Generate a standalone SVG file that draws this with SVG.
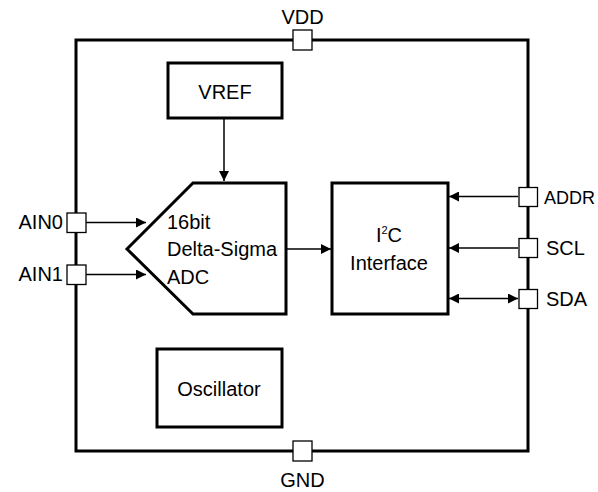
<svg xmlns="http://www.w3.org/2000/svg" width="598" height="492" viewBox="0 0 598 492">
<style>
.t{font-family:"Liberation Sans",Arial,sans-serif;font-size:20px;fill:#000}
.blk{fill:#fff;stroke:#000;stroke-width:3;stroke-linejoin:miter}
.pin{fill:#fff;stroke:#000;stroke-width:1.3}
.ln{fill:none;stroke:#000;stroke-width:1.5}
</style>
<defs>
<marker id="ah" viewBox="0 0 10 10" refX="10" refY="5" markerWidth="10" markerHeight="10" markerUnits="userSpaceOnUse" orient="auto-start-reverse">
<path d="M0,0 L10,5 L0,10 z" fill="#000"/>
</marker>
</defs>
<g id="chip"><rect x="76" y="40" width="452" height="411" fill="none" stroke="#000" stroke-width="3"/></g>
<g id="connectors">
<line class="ln" x1="224" y1="118" x2="224" y2="181" marker-end="url(#ah)"/>
<line class="ln" x1="86" y1="222.5" x2="146" y2="222.5" marker-end="url(#ah)"/>
<line class="ln" x1="86" y1="274.5" x2="146" y2="274.5" marker-end="url(#ah)"/>
<line class="ln" x1="286" y1="249" x2="331" y2="249" marker-end="url(#ah)"/>
<line class="ln" x1="518" y1="196.5" x2="449" y2="196.5" marker-end="url(#ah)"/>
<line class="ln" x1="518" y1="248" x2="449" y2="248" marker-end="url(#ah)"/>
<line class="ln" x1="449" y1="298.5" x2="518" y2="298.5" marker-start="url(#ah)" marker-end="url(#ah)"/>
</g>
<g id="vref"><rect class="blk" x="168" y="63" width="114" height="55"/><text class="t" x="225" y="99" text-anchor="middle">VREF</text></g>
<g id="adc"><path class="blk" d="M193,183 L286,183 L286,314 L193,314 L127,249 Z"/>
<text class="t" x="167" y="229">16bit</text>
<text class="t" x="167" y="256">Delta-Sigma</text>
<text class="t" x="167" y="284">ADC</text></g>
<g id="i2c"><rect class="blk" x="332" y="183" width="116" height="131"/>
<text class="t" x="389" y="242" text-anchor="middle">I<tspan font-size="11" dy="-8">2</tspan><tspan dy="8">C</tspan></text>
<text class="t" x="389" y="270" text-anchor="middle">Interface</text></g>
<g id="osc"><rect class="blk" x="157" y="349" width="125" height="78"/><text class="t" x="219" y="396" text-anchor="middle">Oscillator</text></g>
<g id="pin-vdd"><rect class="pin" x="293" y="30" width="19" height="20"/><text class="t" x="302.5" y="24" text-anchor="middle">VDD</text></g>
<g id="pin-gnd"><rect class="pin" x="293" y="441" width="19" height="20"/><text class="t" x="302.5" y="487" text-anchor="middle">GND</text></g>
<g id="pin-ain0"><rect class="pin" x="67" y="213" width="19" height="19.5"/><text class="t" x="63" y="229" text-anchor="end">AIN0</text></g>
<g id="pin-ain1"><rect class="pin" x="67" y="265" width="19" height="19.5"/><text class="t" x="63" y="281" text-anchor="end">AIN1</text></g>
<g id="pin-addr"><rect class="pin" x="519" y="187.5" width="18.5" height="19"/><text class="t" x="544" y="204" style="font-size:18px">ADDR</text></g>
<g id="pin-scl"><rect class="pin" x="519" y="238.5" width="18.5" height="19"/><text class="t" x="546" y="255">SCL</text></g>
<g id="pin-sda"><rect class="pin" x="519" y="289.5" width="18.5" height="19"/><text class="t" x="546" y="306">SDA</text></g>
</svg>
